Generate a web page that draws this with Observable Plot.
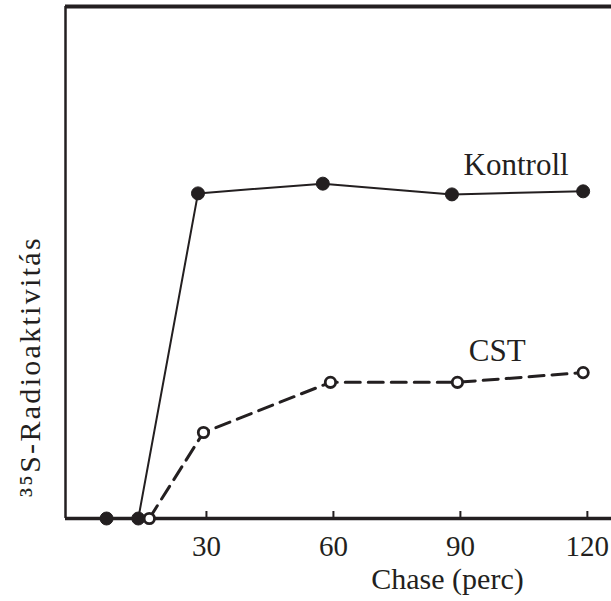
<!DOCTYPE html>
<html>
<head>
<meta charset="utf-8">
<script src="https://cdn.jsdelivr.net/npm/d3@7"></script>
<script src="https://cdn.jsdelivr.net/npm/@observablehq/plot@0.6"></script>
<style>
  html, body { margin: 0; padding: 0; background: white; }
  svg text { font-family: "Liberation Serif", "Times New Roman", serif; }
</style>
</head>
<body>
<div id="chart"></div>
<script>
// Data
const kontrollX = [6.4, 13.9, 28, 57.5, 88, 119];
const kontrollY = [0, 0, 63.5, 65.4, 63.3, 63.9];
const cstX = [16.5, 29.3, 59.3, 89.3, 119];
const cstY = [0, 16.8, 26.6, 26.6, 28.5];
const xTicks = [30, 60, 90, 120];
const seriesNames = ["Kontroll", "CST"];
const xLabel = "Chase (perc)";
const yLabel = "³⁵S-Radioaktivitás";

const kontroll = kontrollX.map((x, i) => ({x, y: kontrollY[i]}));
const cst = cstX.map((x, i) => ({x, y: cstY[i]}));
const ink = "#231f20";
const serif = "'Liberation Serif', 'Times New Roman', serif";

const chart = Plot.plot({
  width: 611,
  height: 601,
  marginLeft: 65,
  marginRight: 0,
  marginTop: 6,
  marginBottom: 83,
  x: {domain: [-3.3, 125.7], label: null},
  y: {domain: [0, 100], axis: null},
  style: {background: "white", color: ink},
  marks: [
    Plot.ruleY([100], {stroke: ink, strokeWidth: 4}),
    Plot.ruleX([-3.3], {stroke: ink, strokeWidth: 2.5}),
    Plot.line(kontroll, {x: "x", y: "y", stroke: ink, strokeWidth: 2}),
    Plot.line(cst, {x: "x", y: "y", stroke: ink, strokeWidth: 3, strokeDasharray: "15,8"}),
    Plot.ruleY([0], {stroke: ink, strokeWidth: 3.5}),
    Plot.dot(kontroll, {x: "x", y: "y", r: 6.5, fill: ink, stroke: ink, strokeWidth: 1}),
    Plot.dot(cst, {x: "x", y: "y", r: 5.2, fill: "white", stroke: ink, strokeWidth: 2.8}),
    Plot.axisX(xTicks, {label: null, tickSize: -7, tickPadding: 24, fontSize: 29, fontFamily: serif, strokeWidth: 2, stroke: ink, fill: ink}),
    Plot.text([seriesNames[0]], {x: [kontrollX[kontrollX.length - 1]], y: [kontrollY[kontrollY.length - 1]], text: d => d, dx: -67, dy: -26, fontSize: 31, fontFamily: serif, fill: ink, textAnchor: "middle"}),
    Plot.text([seriesNames[1]], {x: [cstX[cstX.length - 1]], y: [cstY[cstY.length - 1]], text: d => d, dx: -86, dy: -22, fontSize: 31, fontFamily: serif, fill: ink, textAnchor: "middle"}),
    Plot.text([xLabel], {frameAnchor: "bottom", text: d => d, dx: 109, dy: 70, fontSize: 30, fontFamily: serif, fill: ink, textAnchor: "middle"}),
    Plot.text([yLabel], {frameAnchor: "left", text: d => d, rotate: -90, dx: -35, dy: 104, fontSize: 30, fontFamily: serif, fill: ink, textAnchor: "middle"})
  ]
});
// letter spacing of the vertical axis title (style only)
d3.select(chart).selectAll("text")
  .filter(function() { return this.textContent === yLabel; })
  .attr("letter-spacing", "2.3px");
document.getElementById("chart").appendChild(chart);
</script>
</body>
</html>
